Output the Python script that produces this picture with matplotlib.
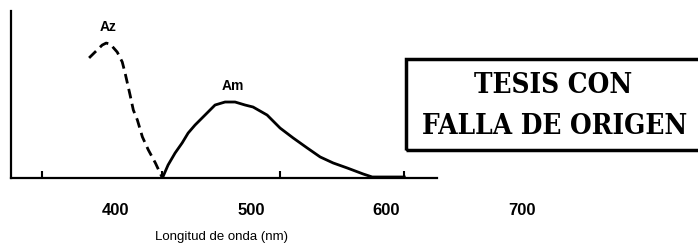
import matplotlib.pyplot as plt
from matplotlib.patches import Rectangle

# absorbance curves (wavelength nm, relative absorbance)
az_wl = [380.2, 384.6, 389.9, 392.8, 395.8, 401.0, 404.7, 406.8, 410.5,
         412.9, 415.9, 419.6, 424.0, 429.2, 434.4]
az_abs = [0.719, 0.754, 0.796, 0.808, 0.802, 0.754, 0.695, 0.629, 0.497,
          0.407, 0.347, 0.246, 0.168, 0.090, 0.0]

am_wl = [434.4, 438.6, 443.8, 449.0, 453.4, 458.5, 465.9, 473.3, 480.7,
         488.1, 495.5, 501.4, 511.8, 521.4, 531.0, 541.4, 551.0, 560.6,
         571.0, 582.8, 589.5, 613.2]
am_abs = [0.0, 0.078, 0.150, 0.210, 0.269, 0.317, 0.377, 0.437, 0.455,
          0.455, 0.437, 0.425, 0.377, 0.299, 0.240, 0.180, 0.126, 0.090,
          0.060, 0.024, 0.006, 0.006]

tick_labels = ['400', '500', '600', '700']
tick_pos = [400, 500, 600, 700]
mark_pos = [345.5, 434.4, 521.1, 613.0]

plt.rcParams['font.family'] = ['Liberation Sans', 'DejaVu Sans']

fig = plt.figure(figsize=(6.98, 2.45), dpi=100)
ax = fig.add_axes([0.0158, 0.2735, 0.7865, 0.6816])

ax.plot(az_wl, az_abs, color='black', lw=2.0, ls=(0, (3.5, 2)),
        solid_joinstyle='round', dash_joinstyle='round')
ax.plot(am_wl, am_abs, color='black', lw=2.0, solid_joinstyle='round')

ax.text(394.6, 0.904, 'Az', ha='center', va='center', fontsize=10, fontweight='bold')
ax.text(486.6, 0.551, 'Am', ha='center', va='center', fontsize=10, fontweight='bold')

ax.set_xlim(322.5, 728.3)
ax.set_ylim(0, 1)
for s in ['top', 'right']:
    ax.spines[s].set_visible(False)
ax.spines['left'].set_linewidth(1.6)
ax.spines['bottom'].set_linewidth(1.6)
ax.spines['bottom'].set_bounds(322.5, 637.4)

ax.set_xticks(tick_pos)
ax.set_xticklabels(tick_labels, fontsize=12, fontweight='bold')
ax.set_xticks(mark_pos, minor=True)
ax.tick_params(axis='x', which='major', length=0, pad=18)
ax.tick_params(axis='x', which='minor', direction='in', length=5, width=1.5)
ax.set_yticks([])

fig.text(0.317, 0.033, 'Longitud de onda (nm)', ha='center', va='center', fontsize=9.5)

# "TESIS CON / FALLA DE ORIGEN" stamp
fig.add_artist(Rectangle((0.582, 0.388), 0.45, 0.371, transform=fig.transFigure,
                         fill=False, lw=2.5, ec='black'))
stamp = dict(ha='center', va='center', fontsize=20, fontweight='bold',
             family=['DejaVu Serif'], fontstretch='condensed')
fig.text(0.792, 0.653, 'TESIS CON', **stamp)
fig.text(0.795, 0.482, 'FALLA DE ORIGEN', **stamp)

fig.savefig('out.png', dpi=100)
